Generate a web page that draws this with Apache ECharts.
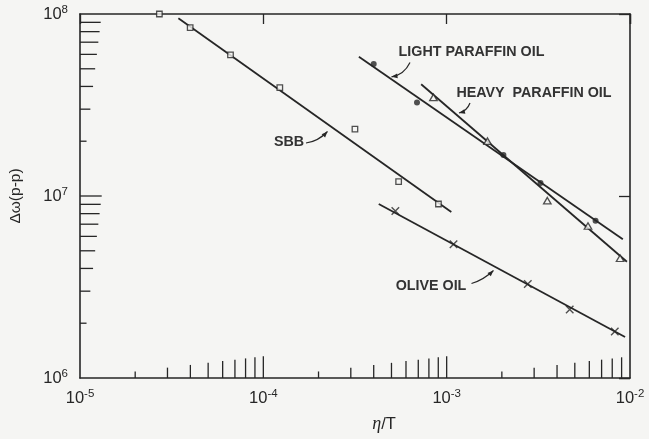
<!DOCTYPE html>
<html><head><meta charset="utf-8">
<script src="https://cdn.jsdelivr.net/npm/echarts@6/dist/echarts.min.js"></script>
<style>html,body{margin:0;padding:0;background:#f5f5f3}#c{width:649px;height:439px}</style>
</head><body><div id="c"></div>
<script>
// ---- data ----
const sbbPoints   = [[2.71e-5,1.0e8],[3.99e-5,8.41e7],[6.62e-5,5.96e7],[1.23e-4,3.94e7],[3.16e-4,2.33e7],[5.47e-4,1.20e7],[9.02e-4,9.04e6]];
const sbbFit      = [[3.44e-5,9.47e7],[1.06e-3,8.17e6]];
const lightPoints = [[4.0e-4,5.31e7],[6.89e-4,3.26e7],[2.04e-3,1.68e7],[3.25e-3,1.18e7],[6.49e-3,7.31e6]];
const lightFit    = [[3.32e-4,5.82e7],[9.14e-3,5.78e6]];
const heavyPoints = [[8.47e-4,3.48e7],[1.67e-3,2.0e7],[3.54e-3,9.42e6],[5.90e-3,6.84e6],[8.83e-3,4.55e6]];
const heavyFit    = [[7.26e-4,4.11e7],[9.62e-3,4.35e6]];
const olivePoints = [[5.25e-4,8.28e6],[1.09e-3,5.43e6],[2.77e-3,3.28e6],[4.69e-3,2.38e6],[8.26e-3,1.80e6]];
const oliveFit    = [[4.26e-4,9.04e6],[9.40e-3,1.68e6]];
const xTicks = [2e-5,3e-5,4e-5,5e-5,6e-5,7e-5,8e-5,9e-5,1e-4,2e-4,3e-4,4e-4,5e-4,6e-4,7e-4,8e-4,9e-4,1e-3,2e-3,3e-3,4e-3,5e-3,6e-3,7e-3,8e-3,9e-3];
const yTicks = [2e6,3e6,4e6,5e6,6e6,7e6,8e6,9e6,1e7,2e7,3e7,4e7,5e7,6e7,7e7,8e7,9e7];
const labelTexts = ['SBB','LIGHT PARAFFIN OIL','HEAVY  PARAFFIN OIL','OLIVE OIL'];
const xName = 'η/T';
const yName = 'Δω(p-p)';

const INK = '#262626';
const FONT = 'Liberation Sans';
const chart = echarts.init(document.getElementById('c'), null, {renderer:'canvas'});

function mant(v){
  const e = Math.floor(Math.log10(v) + 1e-9);
  let m = v / Math.pow(10, e);
  if (m < 1.0001) m = 10;
  return m;
}
const TICK = 21.7;
function powLabel(v){
  const e = Math.round(Math.log10(v));
  return '{b|10}{s|' + (e < 0 ? '-' + (-e) : e) + '}';
}
const rich = {
  b:{fontSize:16.5, fontFamily:FONT, color:INK},
  s:{fontSize:11.5, fontFamily:FONT, color:INK, padding:[0,0,9,0]}
};

const xMin=1e-5, xMax=1e-2, yMin=1e6, yMax=1e8;

const option = {
  backgroundColor:'#f5f5f3',
  animation:false,
  grid:{left:77, right:19, top:14, bottom:61, containLabel:false},
  xAxis:[
    {type:'log', logBase:10, min:xMin, max:xMax, position:'bottom',
     axisLine:{show:true, lineStyle:{color:INK, width:1.6}},
     axisTick:{show:false}, splitLine:{show:false}, minorTick:{show:false},
     axisLabel:{formatter:powLabel, rich:rich, margin:10}},
    {type:'log', logBase:10, min:xMin, max:xMax, position:'top',
     axisLine:{show:true, lineStyle:{color:INK, width:1.6}},
     axisTick:{show:true, inside:true, length:10, lineStyle:{color:INK, width:1.3}},
     axisLabel:{show:false}, splitLine:{show:false}}
  ],
  yAxis:[
    {type:'log', logBase:10, min:yMin, max:yMax, position:'left',
     axisLine:{show:true, lineStyle:{color:INK, width:1.6}},
     axisTick:{show:false}, splitLine:{show:false},
     axisLabel:{formatter:powLabel, rich:rich, margin:12},
     name:yName, nameLocation:'middle', nameRotate:90, nameGap:56,
     nameTextStyle:{fontSize:15.5, fontFamily:FONT, color:INK}},
    {type:'log', logBase:10, min:yMin, max:yMax, position:'right',
     axisLine:{show:true, lineStyle:{color:INK, width:1.6}},
     axisTick:{show:true, inside:true, length:11, lineStyle:{color:INK, width:1.3}},
     axisLabel:{show:false}, splitLine:{show:false}}
  ],
  series:[
    {type:'custom', xAxisIndex:0, yAxisIndex:0, clip:false, silent:true,
     data:xTicks.map(v=>[v,yMin]),
     renderItem:(p,api)=>{
       const v=api.value(0); const pt=api.coord([v,yMin]);
       const L=TICK*Math.log10(mant(v));
       return {type:'line', shape:{x1:pt[0],y1:pt[1],x2:pt[0],y2:pt[1]-L}, style:{stroke:INK,lineWidth:1.3}};
     }},
    {type:'custom', xAxisIndex:0, yAxisIndex:0, clip:false, silent:true,
     data:yTicks.map(v=>[xMin,v]),
     renderItem:(p,api)=>{
       const v=api.value(1); const pt=api.coord([xMin,v]);
       const L=TICK*Math.log10(mant(v));
       return {type:'line', shape:{x1:pt[0],y1:pt[1],x2:pt[0]+L,y2:pt[1]}, style:{stroke:INK,lineWidth:1.3}};
     }},
    {type:'line', data:sbbFit, symbol:'none', lineStyle:{color:INK,width:1.8}, silent:true},
    {type:'line', data:lightFit, symbol:'none', lineStyle:{color:INK,width:1.8}, silent:true},
    {type:'line', data:heavyFit, symbol:'none', lineStyle:{color:INK,width:1.8}, silent:true},
    {type:'line', data:oliveFit, symbol:'none', lineStyle:{color:INK,width:1.8}, silent:true},
    {type:'scatter', data:sbbPoints, symbol:'rect', symbolSize:5.5, clip:false,
     itemStyle:{color:'#f5f5f3', borderColor:INK, borderWidth:1.3}, z:5},
    {type:'scatter', data:lightPoints, symbol:'circle', symbolSize:6, clip:false,
     itemStyle:{color:INK, borderColor:INK, borderWidth:0}, z:5},
    {type:'scatter', data:heavyPoints, symbol:'triangle', symbolSize:[7.5,6.5], clip:false,
     itemStyle:{color:'#f5f5f3', borderColor:INK, borderWidth:1.3}, z:5},
    {type:'scatter', data:olivePoints, symbol:'path://M0,0L10,10M10,0L0,10', symbolSize:7.5, clip:false,
     itemStyle:{color:'none', borderColor:INK, borderWidth:1.4}, z:5}
  ]
};
chart.setOption(option);

// ---- annotations (labels with curved arrows) ----
const ann = [
  {text:labelTexts[0], x:289, y:142.5, tail:[306,143], ctrl:[318,141.5], tip:[327.5,131.5]},
  {text:labelTexts[1], x:471.5, y:52.5, tail:[410,62.5], ctrl:[404,75], tip:[391.5,76.8]},
  {text:labelTexts[2], x:534, y:93.3, tail:[470,103], ctrl:[467,111], tip:[459,113]},
  {text:labelTexts[3], x:431, y:286, tail:[471.5,283.5], ctrl:[483.5,280], tip:[493.5,270.5]}
];
const g = [];
ann.forEach(a=>{
  g.push({type:'text', x:a.x, y:a.y, silent:true,
    style:{text:a.text, fontSize:14.3, fontWeight:'bold', fontFamily:FONT, fill:'#333', align:'center', verticalAlign:'middle'}});
  g.push({type:'bezierCurve', silent:true,
    shape:{x1:a.tail[0],y1:a.tail[1],cpx1:a.ctrl[0],cpy1:a.ctrl[1],x2:a.tip[0],y2:a.tip[1]},
    style:{stroke:INK, lineWidth:1.2, fill:null}});
  const dx=a.tip[0]-a.ctrl[0], dy=a.tip[1]-a.ctrl[1];
  const d=Math.hypot(dx,dy), ux=dx/d, uy=dy/d, L=6, W=2.4;
  const bx=a.tip[0]-ux*L, by=a.tip[1]-uy*L;
  g.push({type:'polygon', silent:true,
    shape:{points:[[a.tip[0],a.tip[1]],[bx-uy*W,by+ux*W],[bx+uy*W,by-ux*W]]},
    style:{fill:INK}});
});
g.push({type:'text', x:384, y:424, silent:true,
  style:{text:'{i|η}{n|/T}', align:'center', verticalAlign:'middle',
    rich:{i:{fontSize:18, fontFamily:'Liberation Serif', fontStyle:'italic', fill:INK},
          n:{fontSize:16.5, fontFamily:FONT, fill:INK}}}});
chart.setOption({graphic:g});
</script>
</body></html>
